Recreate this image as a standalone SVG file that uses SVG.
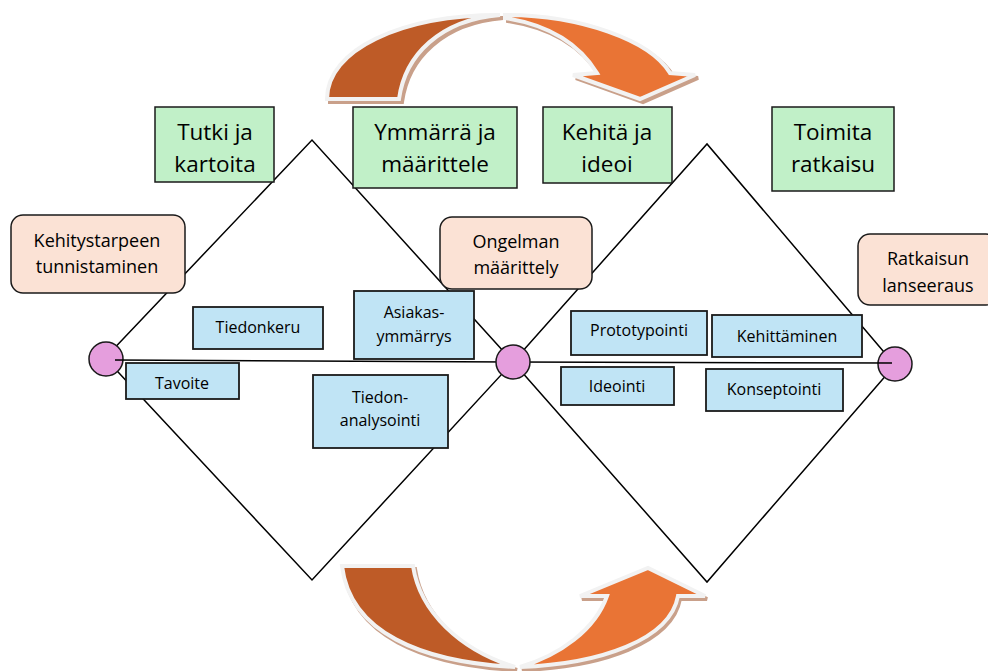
<svg xmlns="http://www.w3.org/2000/svg" width="988" height="671" viewBox="0 0 988 671">
<style>
.g{fill:#C1F0C8;stroke:#1a1a1a;stroke-width:1.5}
.p{fill:#FBE2D5;stroke:#1a1a1a;stroke-width:1.5}
.b{fill:#C0E4F5;stroke:#1a1a1a;stroke-width:1.8}
.c{fill:#E59EDD;stroke:#1a1a1a;stroke-width:1.5}
.ln{fill:none;stroke:#000;stroke-width:1.5}
.tg{font-family:"Open Sans","Liberation Sans",sans-serif;font-size:22.5px;fill:#000;text-anchor:middle}
.tp{font-family:"Open Sans","Liberation Sans",sans-serif;font-size:18px;fill:#000;text-anchor:middle}
.tb{font-family:"Open Sans","Liberation Sans",sans-serif;font-size:16px;fill:#000;text-anchor:middle}
.dk{fill:#BE5B27;stroke:#F2F2F2;stroke-width:4;stroke-linejoin:miter}
.lt{fill:#E97435;stroke:#F2F2F2;stroke-width:4;stroke-linejoin:miter}
.sh{fill:#C9A08A;stroke:#C9A08A;stroke-width:4}
</style>
<g id="arrow-top">
<g transform="translate(3,3)">
<path class="sh" d="M327 99 C327 50 400 15 500 15 C440 20 405 55 399 99 Z"/>
<path class="sh" d="M505 15 C580 15 650 40 670 73 L695 75 L640 99 L573 75 L597 73 C580 45 550 25 505 18 Z"/>
</g>
<path class="dk" d="M327 99 C327 50 400 15 500 15 C440 20 405 55 399 99 Z"/>
<path class="lt" d="M505 15 C580 15 650 40 670 73 L695 75 L640 99 L573 75 L597 73 C580 45 550 25 505 18 Z"/>
</g>
<g id="arrow-bottom">
<g transform="translate(2,3)">
<path class="sh" d="M342 566 L413 566 C420 612 460 650 515 667 C420 662 350 632 342 566 Z"/>
<path class="sh" d="M520 667 C600 664 670 640 678 596 L705 596 L648 568 L580 596 L607 596 C595 630 560 655 520 667 Z"/>
</g>
<path class="dk" d="M342 566 L413 566 C420 612 460 650 515 667 C420 662 350 632 342 566 Z"/>
<path class="lt" d="M520 667 C600 664 670 640 678 596 L705 596 L648 568 L580 596 L607 596 C595 630 560 655 520 667 Z"/>
</g>
<g id="connectors">
<path class="ln" d="M105 358 L312 140 L513 362 L312 580 Z"/>
<path class="ln" d="M513 362 L707 144 L895 365 L707 582 Z"/>
</g>
<g id="circle-start"><circle class="c" cx="106" cy="359" r="17"/></g>
<g id="circle-end"><circle class="c" cx="895" cy="364" r="17"/></g>
<g id="axis">
<path class="ln" d="M115 360 L513 362 L892 363" stroke-width="2"/>
</g>
<g id="circle-mid"><circle class="c" cx="513" cy="362" r="17"/></g>
<g id="tutki"><rect class="g" x="155" y="107" width="119" height="75"/><text class="tg" x="215" y="140">Tutki ja</text><text class="tg" x="215" y="172">kartoita</text></g>
<g id="ymmarra"><rect class="g" x="353" y="107" width="164" height="81"/><text class="tg" x="435" y="140">Ymmärrä ja</text><text class="tg" x="435" y="172">määrittele</text></g>
<g id="kehita"><rect class="g" x="543" y="107" width="129" height="76"/><text class="tg" x="607" y="140">Kehitä ja</text><text class="tg" x="607" y="172">ideoi</text></g>
<g id="toimita"><rect class="g" x="772" y="107" width="122" height="84"/><text class="tg" x="833" y="140">Toimita</text><text class="tg" x="833" y="172">ratkaisu</text></g>
<g id="kehitystarpeen"><rect class="p" x="11" y="215" width="174" height="78" rx="12"/><text class="tp" x="97" y="247">Kehitystarpeen</text><text class="tp" x="97" y="273">tunnistaminen</text></g>
<g id="ongelman"><rect class="p" x="440" y="217" width="152" height="72" rx="12"/><text class="tp" x="516" y="248">Ongelman</text><text class="tp" x="516" y="274">määrittely</text></g>
<g id="ratkaisun"><rect class="p" x="858" y="234" width="140" height="71" rx="12"/><text class="tp" x="928" y="265">Ratkaisun</text><text class="tp" x="928" y="292">lanseeraus</text></g>
<g id="tiedonkeru"><rect class="b" x="193" y="307" width="130" height="42"/><text class="tb" x="258" y="333">Tiedonkeru</text></g>
<g id="asiakas"><rect class="b" x="354" y="291" width="120" height="68"/><text class="tb" x="414" y="318">Asiakas-</text><text class="tb" x="414" y="342">ymmärrys</text></g>
<g id="tavoite"><rect class="b" x="126" y="363" width="113" height="36"/><text class="tb" x="182" y="389">Tavoite</text></g>
<g id="tiedonanalysointi"><rect class="b" x="313" y="375" width="135" height="73"/><text class="tb" x="380" y="403">Tiedon-</text><text class="tb" x="380" y="426">analysointi</text></g>
<g id="prototypointi"><rect class="b" x="571" y="311" width="136" height="44"/><text class="tb" x="639" y="336">Prototypointi</text></g>
<g id="kehittaminen"><rect class="b" x="712" y="315" width="150" height="42"/><text class="tb" x="787" y="342">Kehittäminen</text></g>
<g id="ideointi"><rect class="b" x="561" y="367" width="113" height="38"/><text class="tb" x="617" y="392">Ideointi</text></g>
<g id="konseptointi"><rect class="b" x="706" y="369" width="137" height="42"/><text class="tb" x="774" y="395">Konseptointi</text></g>
</svg>
